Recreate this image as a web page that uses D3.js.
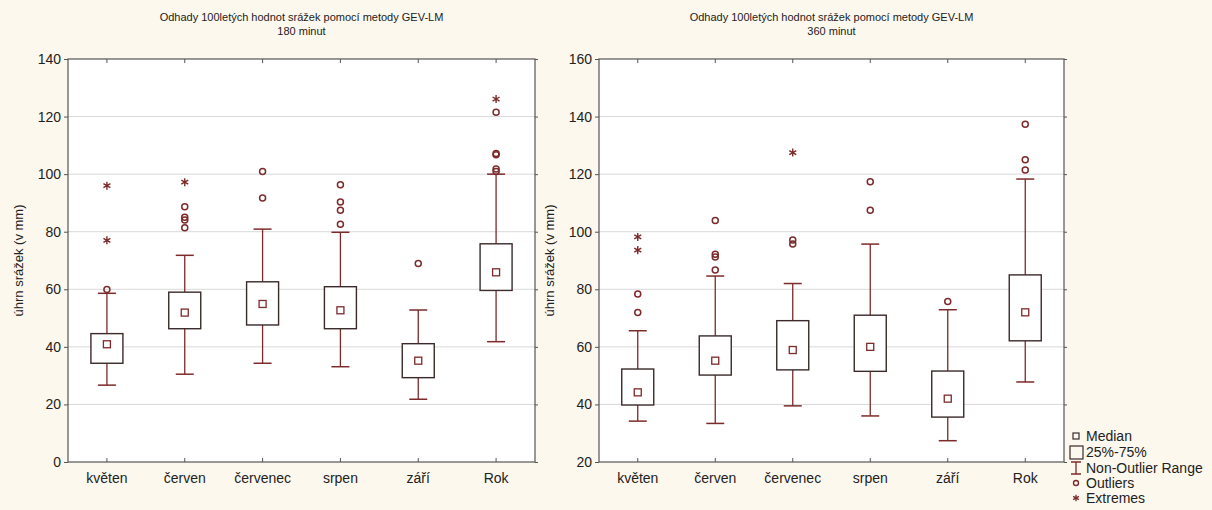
<!DOCTYPE html>
<html>
<head>
<meta charset="utf-8">
<script src="https://cdn.jsdelivr.net/npm/d3@7"></script>
<style>
  body { margin: 0; background: #fdf8ee; }
  text { font-family: "Liberation Sans", Arial, sans-serif; fill: #222; }
</style>
</head>
<body>
<div id="chart"></div>
<script>
var width = 1212,
    height = 510;

var categories = ["květen", "červen", "červenec", "srpen", "září", "Rok"];

// 180 minut
var q1_180 = [34.3, 46.3, 47.6, 46.3, 29.3, 59.6];
var med180 = [40.9, 51.9, 54.9, 52.7, 35.2, 65.9];
var q3_180 = [44.6, 59.0, 62.6, 60.9, 41.1, 75.8];
var lo180 = [26.7, 30.5, 34.3, 33.1, 21.8, 41.8];
var hi180 = [58.6, 71.8, 80.9, 79.8, 52.8, 100.0];
var out180 = [[59.9], [88.7, 85.0, 84.1, 81.4], [100.9, 91.7], [96.3, 90.3, 87.5, 82.6], [69.0], [121.5, 107.2, 106.7, 101.8, 100.9]];
var ext180 = [[96.0, 77.0], [97.2], [], [], [], [126.1]];

// 360 minut
var q1_360 = [39.8, 50.2, 52.0, 51.5, 35.6, 62.1];
var med360 = [44.2, 55.2, 58.9, 60.0, 42.0, 72.0];
var q3_360 = [52.3, 63.8, 69.1, 71.0, 51.6, 85.0];
var lo360 = [34.2, 33.4, 39.5, 36.0, 27.4, 47.8];
var hi360 = [65.6, 84.6, 82.0, 95.7, 72.9, 118.3];
var out360 = [[78.4, 71.9], [103.9, 92.2, 91.2, 86.7], [97.1, 95.7], [117.4, 107.5], [75.8], [137.3, 125.0, 121.4]];
var ext360 = [[98.2, 93.6], [], [127.5], [], [], []];

var titleText = "Odhady 100letých hodnot srážek pomocí metody GEV-LM";
var yLabel = "úhrn srážek (v mm)";
var legendLabels = ["Median", "25%-75%", "Non-Outlier Range", "Outliers", "Extremes"];

var redCol = "#7d2a2a",
    boxCol = "#3a2a2a";

var svg = d3.select("#chart").append("svg")
    .attr("width", width)
    .attr("height", height);

svg.append("rect")
    .attr("width", width)
    .attr("height", height)
    .attr("fill", "#fdf8ee");

function drawPanel(x0, x1, yMin, yMax, subtitle, q1, med, q3, lo, hi, out, ext) {
  var top = 59, bottom = 462;

  var x = d3.scaleBand()
      .domain(categories)
      .range([x0, x1]);

  var y = d3.scaleLinear()
      .domain([yMin, yMax])
      .range([bottom, top]);

  var ticks = d3.range(yMin, yMax + 1, 20);

  svg.append("rect")
      .attr("x", x0).attr("y", top)
      .attr("width", x1 - x0).attr("height", bottom - top)
      .attr("fill", "#fff");

  // gridlines
  svg.selectAll(null)
      .data(ticks.slice(1, -1))
    .enter().append("line")
      .attr("x1", x0).attr("x2", x1)
      .attr("y1", function(d) { return y(d); })
      .attr("y2", function(d) { return y(d); })
      .attr("stroke", "#d9d9d9")
      .attr("stroke-width", 1);

  // axes
  var yAxis = svg.append("g")
      .attr("transform", "translate(" + x0 + ",0)")
      .call(d3.axisLeft(y).tickValues(ticks).tickSize(4).tickPadding(3));
  yAxis.select(".domain").remove();
  yAxis.selectAll("text").style("font-size", "14px").attr("fill", "#222");
  yAxis.selectAll("line").attr("stroke", "#555");

  var yAxisR = svg.append("g")
      .attr("transform", "translate(" + x1 + ",0)")
      .call(d3.axisRight(y).tickValues(ticks).tickSize(3).tickFormat(""));
  yAxisR.select(".domain").remove();
  yAxisR.selectAll("line").attr("stroke", "#555");

  var xAxis = svg.append("g")
      .attr("transform", "translate(0," + bottom + ")")
      .call(d3.axisBottom(x).tickSize(-4).tickPadding(11));
  xAxis.select(".domain").remove();
  xAxis.selectAll("text").style("font-size", "14px").attr("fill", "#222");
  xAxis.selectAll("line").attr("stroke", "#555");

  var xAxisT = svg.append("g")
      .attr("transform", "translate(0," + top + ")")
      .call(d3.axisTop(x).tickSize(-4).tickFormat(""));
  xAxisT.select(".domain").remove();
  xAxisT.selectAll("line").attr("stroke", "#555");

  svg.append("rect")
      .attr("x", x0).attr("y", top)
      .attr("width", x1 - x0).attr("height", bottom - top)
      .attr("fill", "none")
      .attr("stroke", "#555")
      .attr("stroke-width", 1.2);

  // titles
  var cx = (x0 + x1) / 2;
  svg.append("text")
      .attr("x", cx).attr("y", 21)
      .attr("text-anchor", "middle")
      .style("font-size", "11px")
      .text(titleText);
  svg.append("text")
      .attr("x", cx).attr("y", 35)
      .attr("text-anchor", "middle")
      .style("font-size", "11px")
      .text(subtitle);

  svg.append("text")
      .attr("transform", "translate(" + (x0 - 45) + "," + ((top + bottom) / 2) + ") rotate(-90)")
      .attr("text-anchor", "middle")
      .style("font-size", "13px")
      .text(yLabel);

  var bw = 32, cw = 18;
  var g = svg.selectAll(null)
      .data(categories)
    .enter().append("g")
      .attr("transform", function(d) { return "translate(" + (x(d) + x.bandwidth() / 2) + ",0)"; });

  // whiskers
  g.append("line")
      .attr("y1", function(d, i) { return y(lo[i]); })
      .attr("y2", function(d, i) { return y(q1[i]); })
      .attr("stroke", redCol).attr("stroke-width", 1.3);
  g.append("line")
      .attr("y1", function(d, i) { return y(q3[i]); })
      .attr("y2", function(d, i) { return y(hi[i]); })
      .attr("stroke", redCol).attr("stroke-width", 1.3);
  g.append("line")
      .attr("x1", -cw / 2).attr("x2", cw / 2)
      .attr("y1", function(d, i) { return y(lo[i]); })
      .attr("y2", function(d, i) { return y(lo[i]); })
      .attr("stroke", redCol).attr("stroke-width", 1.5);
  g.append("line")
      .attr("x1", -cw / 2).attr("x2", cw / 2)
      .attr("y1", function(d, i) { return y(hi[i]); })
      .attr("y2", function(d, i) { return y(hi[i]); })
      .attr("stroke", redCol).attr("stroke-width", 1.5);

  // boxes
  g.append("rect")
      .attr("x", -bw / 2).attr("width", bw)
      .attr("y", function(d, i) { return y(q3[i]); })
      .attr("height", function(d, i) { return y(q1[i]) - y(q3[i]); })
      .attr("fill", "#fff")
      .attr("stroke", boxCol).attr("stroke-width", 1.4);

  // median
  g.append("rect")
      .attr("x", -3.5).attr("width", 7)
      .attr("y", function(d, i) { return y(med[i]) - 3.5; })
      .attr("height", 7)
      .attr("fill", "#fff")
      .attr("stroke", redCol).attr("stroke-width", 1.3);

  // outliers
  g.selectAll("circle")
      .data(function(d, i) { return out[i]; })
    .enter().append("circle")
      .attr("cy", function(v) { return y(v); })
      .attr("r", 3)
      .attr("fill", "none")
      .attr("stroke", redCol).attr("stroke-width", 1.5);

  // extremes
  g.selectAll("path.ext")
      .data(function(d, i) { return ext[i]; })
    .enter().append("path")
      .attr("class", "ext")
      .attr("d", d3.symbol(d3.symbolAsterisk, 45))
      .attr("transform", function(v) { return "translate(0," + y(v) + ")"; })
      .attr("fill", "none")
      .attr("stroke", redCol).attr("stroke-width", 1.4);
}

drawPanel(68, 535, 0, 140, "180 minut", q1_180, med180, q3_180, lo180, hi180, out180, ext180);
drawPanel(599, 1064, 20, 160, "360 minut", q1_360, med360, q3_360, lo360, hi360, out360, ext360);

// legend
var legend = svg.append("g").attr("transform", "translate(1076,0)");
var ly = [436, 452, 468, 483, 498];

legend.selectAll("text")
    .data(legendLabels)
  .enter().append("text")
    .attr("x", 10)
    .attr("y", function(d, i) { return ly[i]; })
    .attr("dy", "0.35em")
    .style("font-size", "14px")
    .text(function(d) { return d; });

legend.append("rect")
    .attr("x", -3).attr("y", ly[0] - 3).attr("width", 6).attr("height", 6)
    .attr("fill", "none").attr("stroke", boxCol).attr("stroke-width", 1.2);
legend.append("rect")
    .attr("x", -6).attr("y", ly[1] - 6).attr("width", 13).attr("height", 13)
    .attr("fill", "none").attr("stroke", boxCol).attr("stroke-width", 1.2);
legend.append("path")
    .attr("d", "M-5," + (ly[2] - 6) + "H5M0," + (ly[2] - 6) + "V" + (ly[2] + 6) + "M-5," + (ly[2] + 6) + "H5")
    .attr("fill", "none").attr("stroke", redCol).attr("stroke-width", 1.3);
legend.append("circle")
    .attr("cx", 0).attr("cy", ly[3]).attr("r", 2.5)
    .attr("fill", "none").attr("stroke", redCol).attr("stroke-width", 1.4);
legend.append("path")
    .attr("d", d3.symbol(d3.symbolAsterisk, 30))
    .attr("transform", "translate(0," + ly[4] + ")")
    .attr("fill", "none").attr("stroke", redCol).attr("stroke-width", 1.3);
</script>
</body>
</html>
